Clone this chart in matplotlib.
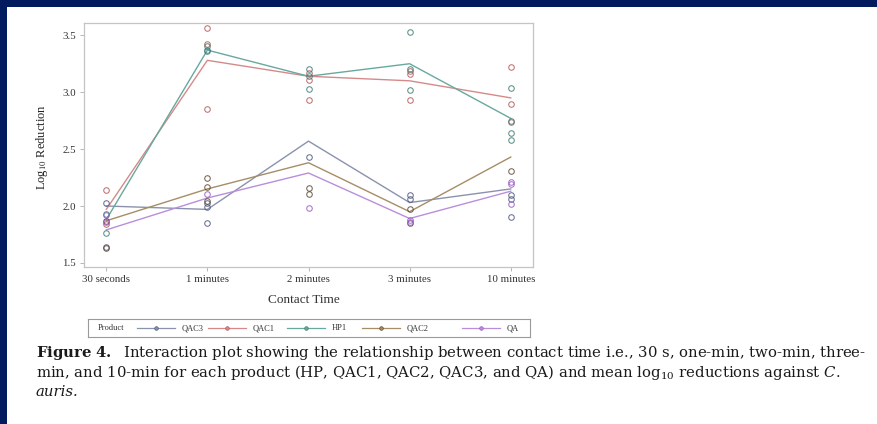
import matplotlib
matplotlib.use("Agg")
import matplotlib.pyplot as plt
from matplotlib.patches import Rectangle
from matplotlib.lines import Line2D

# ---- data -------------------------------------------------------------
times = ["30 seconds", "1 minutes", "2 minutes", "3 minutes", "10 minutes"]
products = ["QAC3", "QAC1", "HP1", "QAC2", "QA"]

# mean log10 reduction per product at each contact time
qac3_mean = [2.00, 1.97, 2.57, 2.03, 2.15]
qac1_mean = [1.97, 3.28, 3.14, 3.10, 2.95]
hp1_mean = [1.88, 3.37, 3.14, 3.25, 2.77]
qac2_mean = [1.87, 2.15, 2.38, 1.95, 2.43]
qa_mean = [1.79, 2.07, 2.29, 1.89, 2.13]

# individual replicate reductions per product at each contact time
qac3_pts = [[2.03, 1.64], [1.85, 2.03, 1.99], [2.43], [2.10, 2.06], [2.10, 2.06, 1.90]]
qac1_pts = [[2.14, 1.84], [3.56, 2.85, 3.42], [3.17, 3.11, 2.93], [3.19, 3.16, 2.93], [3.22, 2.90, 2.74]]
hp1_pts = [[1.93, 1.76], [3.41, 3.37, 3.36], [3.20, 3.145, 3.03], [3.53, 3.20, 3.02], [3.04, 2.75, 2.64, 2.58]]
qac2_pts = [[1.87, 1.63], [2.25, 2.17, 2.04], [2.16, 2.105], [1.97, 1.85], [2.31]]
qa_pts = [[1.92, 1.86], [2.105], [1.98], [1.877, 1.862], [2.21, 2.19, 2.02]]

yticks = [1.5, 2.0, 2.5, 3.0, 3.5]

means = [qac3_mean, qac1_mean, hp1_mean, qac2_mean, qa_mean]
points = [qac3_pts, qac1_pts, hp1_pts, qac2_pts, qa_pts]
line_colors = ["#8a92ae", "#d58a8a", "#68a89e", "#a68d66", "#b98edb"]
mark_colors = ["#4f5a80", "#b45a5a", "#3f7f76", "#5e4a35", "#9a5cc9"]

# ---- figure -----------------------------------------------------------
W, H = 877, 424
fig = plt.figure(figsize=(W / 100, H / 100), dpi=100)
fig.patch.set_facecolor("white")

navy = "#021a5e"
fig.patches.append(Rectangle((0, 1 - 7 / H), 1, 7 / H, transform=fig.transFigure,
                             facecolor=navy, edgecolor="none", zorder=0))
fig.patches.append(Rectangle((0, 0), 7 / W, 1, transform=fig.transFigure,
                             facecolor=navy, edgecolor="none", zorder=0))

serif = ["Liberation Serif", "DejaVu Serif"]
ax = fig.add_axes([84 / W, 1 - 267 / H, (533 - 84) / W, (267 - 23) / H])
xs = list(range(len(times)))
for m, pts, lc, mc in zip(means, points, line_colors, mark_colors):
    ax.plot(xs, m, color=lc, lw=1.0, zorder=2)
    for x, vals in zip(xs, pts):
        ax.plot([x] * len(vals), vals, linestyle="none", marker="o", ms=4,
                mfc="none", mec=mc, mew=0.75, alpha=0.85, zorder=3)

ax.set_xlim(-0.22, len(times) - 1 + 0.22)
ax.set_ylim(1.464, 3.608)
ax.set_xticks(xs)
ax.set_xticklabels(times, fontfamily=serif, fontsize=7.8, color="#333333")
ax.set_yticks(yticks)
ax.set_yticklabels([f"{v:.1f}" for v in yticks], fontfamily=serif, fontsize=7.8, color="#333333")
ax.tick_params(length=3, width=0.6, color="#aaaaaa", pad=3)
for s in ax.spines.values():
    s.set_color("#c4c4c4")
    s.set_linewidth(0.9)

fig.text(42 / W, 1 - 147 / H, r"Log$_{10}$ Reduction", rotation=90, ha="center", va="center",
         fontfamily=serif, fontsize=9, color="#222222", math_fontfamily="stix")
fig.text(304 / W, 1 - 300 / H, "Contact Time", ha="center", va="center",
         fontfamily=serif, fontsize=9.5, color="#333333")

# ---- legend strip -----------------------------------------------------
lax = fig.add_axes([88 / W, 1 - 337 / H, (530 - 88) / W, 18 / H])
lax.set_xlim(88, 530)
lax.set_ylim(0, 1)
lax.set_xticks([])
lax.set_yticks([])
for s in lax.spines.values():
    s.set_color("#9a9a9a")
    s.set_linewidth(0.8)
lax.text(98, 0.5, "Product", ha="left", va="center", fontfamily=serif, fontsize=6, color="#333333")
swatch_x = [137, 208, 287, 362, 462]
for sx, name, lc, mc in zip(swatch_x, products, line_colors, mark_colors):
    lax.add_line(Line2D([sx, sx + 38], [0.5, 0.5], color=lc, lw=0.9))
    lax.plot([sx + 19], [0.5], marker="o", ms=2.6, mfc=lc, mec=mc, mew=0.5)
    lax.text(sx + 45, 0.5, name, ha="left", va="center", fontfamily=serif, fontsize=6, color="#333333")

# ---- caption ----------------------------------------------------------
cap = dict(fontfamily="DejaVu Serif", fontsize=10.7, color="#1a1a1a",
           math_fontfamily="dejavuserif", ha="left", va="baseline")
fig.text(36 / W, 1 - 357 / H,
         r"$\mathbf{Figure\ 4.}$  Interaction plot showing the relationship between contact time i.e., "
         r"30 s, one-min, two-min, three-", **cap)
fig.text(36 / W, 1 - 377 / H,
         r"min, and 10-min for each product (HP, QAC1, QAC2, QAC3, and QA) and mean log$_{10}$ "
         r"reductions against $\mathit{C.}$", **cap)
fig.text(36 / W, 1 - 396 / H, "auris.", fontstyle="italic", **cap)

fig.savefig("out.png", dpi=100, facecolor="white")
